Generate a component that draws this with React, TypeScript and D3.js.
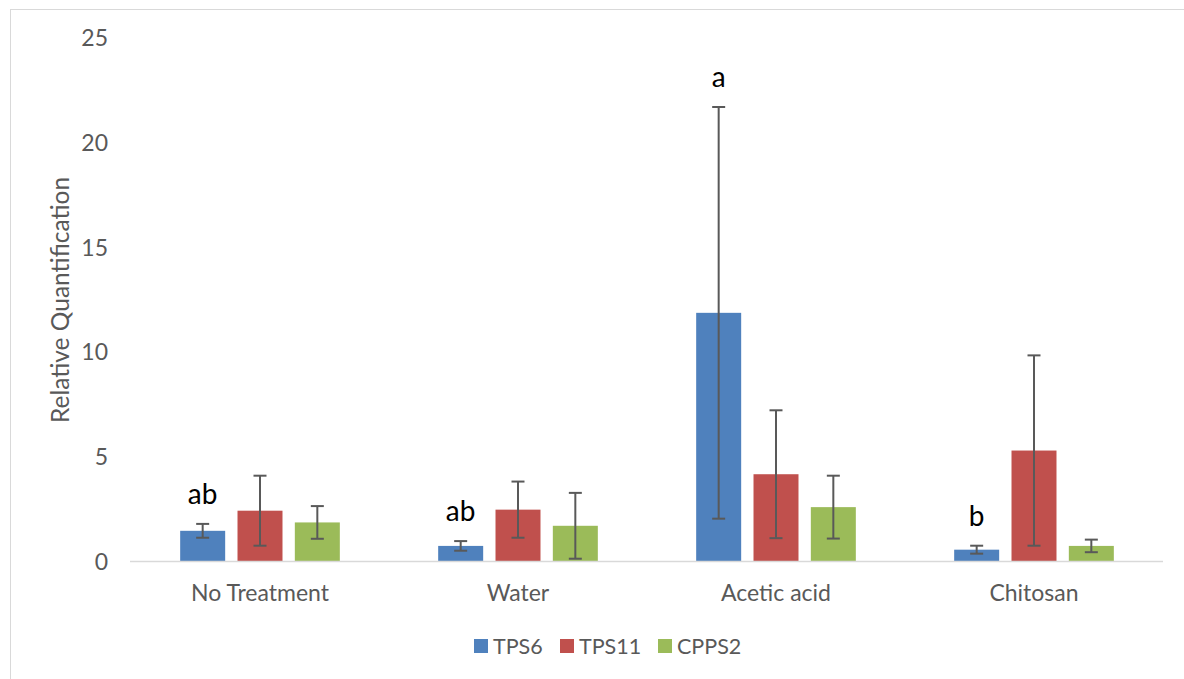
import React from "react";
import * as d3 from "d3";

const categories = ["No Treatment", "Water", "Acetic acid", "Chitosan"];
const seriesNames = ["TPS6", "TPS11", "CPPS2"];
const seriesColors = ["#4F81BD", "#C0504D", "#9BBB59"];

const tps6Values = [1.44, 0.72, 11.84, 0.54];
const tps6Errors = [0.33, 0.23, 9.82, 0.19];
const tps11Values = [2.4, 2.45, 4.14, 5.27];
const tps11Errors = [1.67, 1.34, 3.05, 4.54];
const cpps2Values = [1.84, 1.68, 2.57, 0.72];
const cpps2Errors = [0.78, 1.57, 1.5, 0.3];

const significanceLabels = ["ab", "ab", "a", "b"]; // on TPS6 bars
const yTicks = [0, 5, 10, 15, 20, 25];

const W = 1184;
const H = 679;
const FONT = "Lato, 'Open Sans', sans-serif";
const TEXT_GREY = "#595959";

export default function App() {
  const plotLeft = 131;
  const plotRight = 1163;
  const plotTop = 37;
  const plotBottom = 561;

  const x = d3.scaleBand<string>().domain(categories).range([plotLeft, plotRight]).padding(0);
  const y = d3.scaleLinear().domain([0, 25]).range([plotBottom, plotTop]);

  const band = x.bandwidth();
  const barW = band * 0.1744;
  const step = band * 0.2222;

  const values = [tps6Values, tps11Values, cpps2Values];
  const errors = [tps6Errors, tps11Errors, cpps2Errors];

  const capHalf = 6.5;

  return (
    <svg
      width={W}
      height={H}
      style={{ position: "absolute", left: 0, top: 0, background: "#fff" }}
    >
      <rect x={10.5} y={9.5} width={W} height={H} fill="#fff" stroke="#D9D9D9" strokeWidth={1} />

      {/* y tick labels */}
      {yTicks.map((t) => (
        <text
          key={t}
          x={108}
          y={y(t)}
          textAnchor="end"
          dominantBaseline="central"
          fontFamily={FONT}
          fontSize={23}
          fill={TEXT_GREY}
        >
          {t}
        </text>
      ))}

      {/* y axis title */}
      <text
        transform={`translate(59, ${(plotTop + plotBottom) / 2 + 1}) rotate(-90)`}
        textAnchor="middle"
        dominantBaseline="central"
        fontFamily={FONT}
        fontSize={24.5}
        fill={TEXT_GREY}
      >
        Relative Quantification
      </text>

      {/* bars */}
      {categories.map((c, ci) => {
        const center = (x(c) as number) + band / 2;
        return (
          <g key={c}>
            {values.map((vals, si) => {
              const cx = center + (si - 1) * step;
              const v = vals[ci];
              return (
                <rect
                  key={si}
                  x={cx - barW / 2}
                  y={y(v)}
                  width={barW}
                  height={y(0) - y(v)}
                  fill={seriesColors[si]}
                />
              );
            })}
          </g>
        );
      })}

      {/* baseline */}
      <line x1={plotLeft - 1} x2={plotRight} y1={y(0) + 0.5} y2={y(0) + 0.5} stroke="#D9D9D9" strokeWidth={1.5} />

      {/* error bars */}
      {categories.map((c, ci) => {
        const center = (x(c) as number) + band / 2;
        return (
          <g key={c} stroke="#595959" strokeWidth={2}>
            {values.map((vals, si) => {
              const cx = center + (si - 1) * step;
              const v = vals[ci];
              const e = errors[si][ci];
              const hi = y(v + e);
              const lo = y(Math.max(0, v - e));
              return (
                <g key={si}>
                  <line x1={cx} x2={cx} y1={hi} y2={lo} />
                  <line x1={cx - capHalf} x2={cx + capHalf} y1={hi} y2={hi} />
                  <line x1={cx - capHalf} x2={cx + capHalf} y1={lo} y2={lo} />
                </g>
              );
            })}
          </g>
        );
      })}

      {/* significance letters above TPS6 */}
      {categories.map((c, ci) => {
        const center = (x(c) as number) + band / 2;
        const cx = center - step;
        const top = y(tps6Values[ci] + tps6Errors[ci]);
        return (
          <text
            key={c}
            x={cx}
            y={top - 20}
            textAnchor="middle"
            fontFamily={FONT}
            fontSize={28}
            fill="#000"
          >
            {significanceLabels[ci]}
          </text>
        );
      })}

      {/* category labels */}
      {categories.map((c) => (
        <text
          key={c}
          x={(x(c) as number) + band / 2}
          y={592}
          textAnchor="middle"
          dominantBaseline="central"
          fontFamily={FONT}
          fontSize={23}
          fill={TEXT_GREY}
        >
          {c}
        </text>
      ))}

      {/* legend */}
      {(() => {
        const items = [474, 560, 658];
        return seriesNames.map((n, i) => (
          <g key={n}>
            <rect x={items[i]} y={639} width={14} height={14} fill={seriesColors[i]} />
            <text
              x={items[i] + 19}
              y={646}
              dominantBaseline="central"
              fontFamily={FONT}
              fontSize={21.5}
              fill={TEXT_GREY}
            >
              {n}
            </text>
          </g>
        ));
      })()}
    </svg>
  );
}
